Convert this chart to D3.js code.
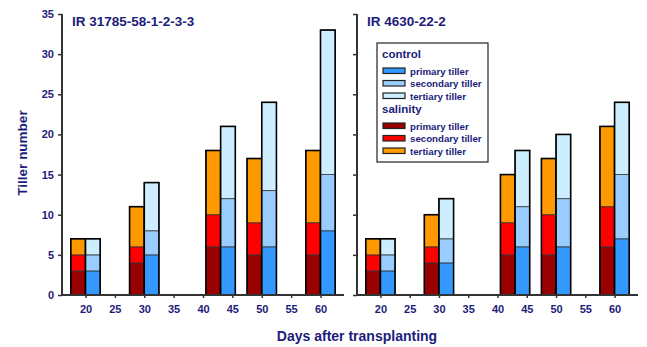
<!DOCTYPE html>
<html>
<head>
<meta charset="utf-8">
<script src="https://cdn.jsdelivr.net/npm/d3@7"></script>
<style>
  body { margin: 0; background: #fff; }
  text { font-family: "Liberation Sans", Arial, sans-serif; font-weight: bold; fill: #1c1c7a; }
</style>
</head>
<body>
<svg id="chart" width="647" height="347"></svg>
<script>
// sampling days (days after transplanting)
const days = [20, 30, 43, 50, 60];
const xTicks = [20, 25, 30, 35, 40, 45, 50, 55, 60];
const yTicks = [0, 5, 10, 15, 20, 25, 30, 35];

const panelTitles = ["IR 31785-58-1-2-3-3", "IR 4630-22-2"];

// tiller counts per tiller class (not cumulative)
// IR 31785-58-1-2-3-3
const salPrimaryA = [3, 4, 6, 5, 5];
const salSecondaryA = [2, 2, 4, 4, 4];
const salTertiaryA = [2, 5, 8, 8, 9];
const ctlPrimaryA = [3, 5, 6, 6, 8];
const ctlSecondaryA = [2, 3, 6, 7, 7];
const ctlTertiaryA = [2, 6, 9, 11, 18];
// IR 4630-22-2
const salPrimaryB = [3, 4, 5, 5, 6];
const salSecondaryB = [2, 2, 4, 5, 5];
const salTertiaryB = [2, 4, 6, 7, 10];
const ctlPrimaryB = [3, 4, 6, 6, 7];
const ctlSecondaryB = [2, 3, 5, 6, 8];
const ctlTertiaryB = [2, 5, 7, 8, 9];

const ctlColors = ["#3399ff", "#99ccff", "#cceeff"];
const salColors = ["#990000", "#ff0000", "#ff9900"];
const tillerNames = ["primary tiller", "secondary tiller", "tertiary tiller"];

const panels = [
  { title: panelTitles[0], left: 62, right: 344, labels: true,
    sal: [salPrimaryA, salSecondaryA, salTertiaryA], ctl: [ctlPrimaryA, ctlSecondaryA, ctlTertiaryA] },
  { title: panelTitles[1], left: 357, right: 638, labels: false,
    sal: [salPrimaryB, salSecondaryB, salTertiaryB], ctl: [ctlPrimaryB, ctlSecondaryB, ctlTertiaryB] }
];

const svg = d3.select("#chart");
const plotTop = 14, plotBottom = 295;
const y = d3.scaleLinear().domain([0, 35]).range([plotBottom, plotTop]);
const barDays = 2.5;
const textColor = "#1c1c7a";

panels.forEach(p => {
  const x = d3.scaleLinear().domain([16, 64]).range([p.left, p.right]);
  const g = svg.append("g");

  const stackFor = series => days.map((d, i) => {
    let acc = 0;
    return series.map((s, k) => {
      const y0 = acc; acc += s[i];
      return { day: d, y0, y1: acc, k };
    });
  });

  const drawStacks = (series, colors, side) => {
    stackFor(series).forEach(segs => {
      const d = segs[0].day;
      const x0 = side < 0 ? x(d - barDays) : x(d);
      const x1 = side < 0 ? x(d) : x(d + barDays);
      g.selectAll(null).data(segs).join("rect")
        .attr("x", x0).attr("width", x1 - x0)
        .attr("y", s => y(s.y1)).attr("height", s => y(s.y0) - y(s.y1))
        .attr("fill", s => colors[s.k])
        .attr("stroke", "#333").attr("stroke-width", 0.8);
      const total = segs[segs.length - 1].y1;
      g.append("rect")
        .attr("x", x0).attr("width", x1 - x0)
        .attr("y", y(total)).attr("height", y(0) - y(total))
        .attr("fill", "none").attr("stroke", "#000").attr("stroke-width", 1.6);
    });
  };
  drawStacks(p.sal, salColors, -1);
  drawStacks(p.ctl, ctlColors, 1);

  // y axis
  const ya = g.append("g").attr("transform", `translate(${p.left},0)`)
    .call(d3.axisLeft(y).tickValues(yTicks).tickSize(4).tickPadding(4).tickFormat(p.labels ? d3.format("d") : ""));
  ya.select(".domain").attr("stroke", "#333").attr("stroke-width", 2).attr("d", `M0,${plotTop}V${plotBottom}`);
  ya.selectAll(".tick line").attr("stroke", "#333").attr("stroke-width", 1.5);
  ya.selectAll(".tick text").attr("font-size", 11).attr("fill", textColor).attr("font-family", "Liberation Sans, Arial, sans-serif");

  // x axis
  const xa = g.append("g").attr("transform", `translate(0,${plotBottom})`)
    .call(d3.axisBottom(x).tickValues(xTicks).tickSize(3).tickPadding(7));
  xa.select(".domain").attr("stroke", "#333").attr("stroke-width", 2).attr("d", `M${p.left},0H${p.right}`);
  xa.selectAll(".tick line").attr("stroke", "#333").attr("stroke-width", 1.5);
  xa.selectAll(".tick text").attr("font-size", 11).attr("fill", textColor).attr("font-family", "Liberation Sans, Arial, sans-serif");

  g.append("text").attr("x", p.left + 10).attr("y", 26).attr("font-size", 13.5).text(p.title);
});

// axis titles
svg.append("text").attr("x", 357).attr("y", 341).attr("text-anchor", "middle").attr("font-size", 14)
  .text("Days after transplanting");
svg.append("text").attr("transform", "translate(27,153) rotate(-90)").attr("text-anchor", "middle").attr("font-size", 13.5)
  .text("Tiller number");

// legend
const lg = svg.append("g").attr("transform", "translate(377,43)");
lg.append("rect").attr("width", 111).attr("height", 119).attr("fill", "#fff").attr("stroke", "#222").attr("stroke-width", 1.2);
const groups = [
  { name: "control", colors: ctlColors, y: 15 },
  { name: "salinity", colors: salColors, y: 70 }
];
groups.forEach(gr => {
  lg.append("text").attr("x", 5).attr("y", gr.y).attr("font-size", 11.5).text(gr.name);
  tillerNames.forEach((t, i) => {
    const cy = gr.y + 13 + i * 12.5;
    lg.append("rect").attr("x", 6).attr("y", cy - 3).attr("width", 22).attr("height", 5.5)
      .attr("fill", gr.colors[i]).attr("stroke", "#222").attr("stroke-width", 1.2);
    lg.append("text").attr("x", 33).attr("y", cy + 3.5).attr("font-size", 9.7).text(t);
  });
});
</script>
</body>
</html>
